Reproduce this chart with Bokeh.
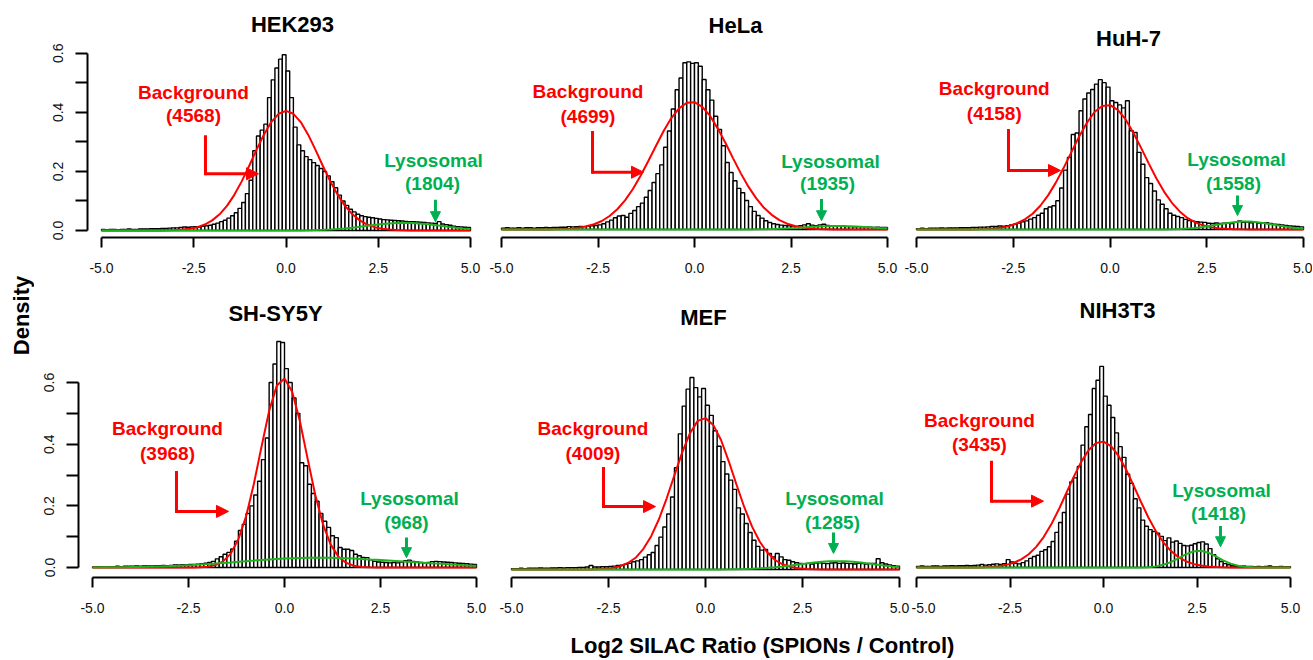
import math
import numpy as np
from bokeh.plotting import figure
from bokeh.models import Range1d, FixedTicker, Label, Arrow, NormalHead
from bokeh.layouts import row, column
from bokeh.embed import file_html
from bokeh.resources import INLINE

# ------------------------------------------------------------------ data
panels = ["HEK293", "HeLa", "HuH-7", "SH-SY5Y", "MEF", "NIH3T3"]
background_counts = ["4568", "4699", "4158", "3968", "4009", "3435"]
lysosomal_counts = ["1804", "1935", "1558", "968", "1285", "1418"]

bin_edges = np.round(np.linspace(-5.0, 5.0, 101), 2)   # histogram bins, width 0.1
curve_x = np.round(np.linspace(-5.0, 5.0, 51), 2)      # x positions where the fitted curves were read

x_tick_values = [-5.0, -2.5, 0.0, 2.5, 5.0]
x_tick_labels = ["-5.0", "-2.5", "0.0", "2.5", "5.0"]
y_tick_values = [0.0, 0.1, 0.2, 0.3, 0.4, 0.5, 0.6]
y_tick_labels = ["0.0", "", "0.2", "", "0.4", "", "0.6"]

hek293_density = [
    0.004, 0.003, 0.004, 0.004, 0.003, 0.004, 0.004, 0.005, 0.004, 0.004, 0.005, 0.005, 0.005, 0.006, 0.006,
    0.006, 0.007, 0.007, 0.008, 0.009, 0.009, 0.010, 0.012, 0.011, 0.012,
    0.013, 0.012, 0.014, 0.016, 0.018, 0.021, 0.025, 0.030, 0.035, 0.042,
    0.050, 0.060, 0.075, 0.095, 0.125, 0.170, 0.270, 0.320, 0.340, 0.360,
    0.450, 0.510, 0.550, 0.580, 0.595, 0.540, 0.450, 0.350, 0.290, 0.270,
    0.250, 0.240, 0.230, 0.220, 0.210, 0.200, 0.185, 0.165, 0.145, 0.120,
    0.100, 0.085, 0.072, 0.063, 0.055, 0.050, 0.047, 0.045, 0.043, 0.041,
    0.039, 0.037, 0.036, 0.035, 0.034, 0.033, 0.032, 0.031, 0.030, 0.030,
    0.029, 0.028, 0.027, 0.026, 0.025, 0.024, 0.030, 0.022, 0.020, 0.018,
    0.015, 0.013, 0.012, 0.011, 0.010]
hela_density = [
    0.005, 0.006, 0.005, 0.005, 0.006, 0.005, 0.006, 0.006, 0.005, 0.006, 0.006, 0.007, 0.006, 0.007, 0.007,
    0.008, 0.008, 0.010, 0.009, 0.010, 0.011, 0.010, 0.012, 0.013, 0.014,
    0.016, 0.020, 0.026, 0.032, 0.040, 0.046, 0.048, 0.042, 0.055, 0.065,
    0.078, 0.090, 0.110, 0.133, 0.160, 0.190, 0.220, 0.280, 0.335, 0.410,
    0.475, 0.515, 0.567, 0.570, 0.565, 0.567, 0.555, 0.510, 0.475, 0.440,
    0.385, 0.340, 0.285, 0.228, 0.194, 0.166, 0.140, 0.125, 0.099, 0.078,
    0.062, 0.048, 0.039, 0.030, 0.024, 0.020, 0.017, 0.015, 0.014, 0.013,
    0.012, 0.011, 0.013, 0.016, 0.020, 0.015, 0.013, 0.016, 0.018, 0.014,
    0.013, 0.012, 0.011, 0.012, 0.010, 0.010, 0.009, 0.010, 0.009, 0.008,
    0.008, 0.007, 0.008, 0.007, 0.007]
huh7_density = [
    0.003, 0.004, 0.003, 0.004, 0.004, 0.004, 0.005, 0.004, 0.005, 0.005, 0.005, 0.006, 0.006, 0.006, 0.007,
    0.007, 0.008, 0.008, 0.009, 0.010, 0.010, 0.012, 0.011, 0.013, 0.015,
    0.018, 0.022, 0.026, 0.029, 0.035, 0.040, 0.048, 0.055, 0.070, 0.076,
    0.080, 0.097, 0.140, 0.200, 0.243, 0.320, 0.325, 0.400, 0.440, 0.460,
    0.472, 0.490, 0.505, 0.495, 0.480, 0.434, 0.428, 0.420, 0.410, 0.434,
    0.333, 0.327, 0.260, 0.220, 0.175, 0.155, 0.130, 0.100, 0.085, 0.070,
    0.055, 0.048, 0.044, 0.040, 0.034, 0.030, 0.028, 0.026, 0.025, 0.024,
    0.021, 0.020, 0.022, 0.020, 0.021, 0.022, 0.020, 0.024, 0.029, 0.024,
    0.025, 0.023, 0.024, 0.022, 0.021, 0.023, 0.020, 0.018, 0.017, 0.015,
    0.014, 0.012, 0.011, 0.010, 0.009]
shsy5y_density = [
    0.002, 0.003, 0.003, 0.002, 0.003, 0.003, 0.004, 0.003, 0.004, 0.004, 0.004, 0.005, 0.004, 0.005, 0.005,
    0.005, 0.006, 0.006, 0.007, 0.006, 0.007, 0.008, 0.008, 0.009, 0.009,
    0.010, 0.010, 0.011, 0.012, 0.014, 0.016, 0.020, 0.028, 0.035, 0.043,
    0.049, 0.060, 0.085, 0.120, 0.140, 0.175, 0.200, 0.235, 0.280, 0.350,
    0.420, 0.600, 0.660, 0.733, 0.730, 0.645, 0.600, 0.550, 0.500, 0.340,
    0.330, 0.270, 0.240, 0.215, 0.175, 0.150, 0.130, 0.103, 0.097, 0.065,
    0.059, 0.059, 0.055, 0.043, 0.038, 0.033, 0.032, 0.025, 0.020, 0.018,
    0.017, 0.016, 0.015, 0.016, 0.015, 0.018, 0.022, 0.024, 0.020, 0.018,
    0.016, 0.015, 0.016, 0.019, 0.020, 0.019, 0.018, 0.017, 0.016, 0.015,
    0.014, 0.013, 0.012, 0.011, 0.010]
mef_density = [
    0.003, 0.003, 0.004, 0.003, 0.004, 0.004, 0.004, 0.005, 0.004, 0.004, 0.005, 0.005, 0.006, 0.005, 0.006,
    0.006, 0.006, 0.007, 0.007, 0.008, 0.013, 0.008, 0.008, 0.009, 0.009,
    0.010, 0.011, 0.013, 0.014, 0.017, 0.020, 0.025, 0.028, 0.032, 0.040,
    0.048, 0.055, 0.078, 0.105, 0.138, 0.180, 0.235, 0.330, 0.440, 0.530,
    0.585, 0.623, 0.590, 0.560, 0.587, 0.533, 0.500, 0.450, 0.400, 0.350,
    0.310, 0.290, 0.260, 0.200, 0.180, 0.149, 0.120, 0.095, 0.075, 0.063,
    0.065, 0.052, 0.041, 0.052, 0.041, 0.032, 0.030, 0.025, 0.022, 0.020,
    0.019, 0.020, 0.018, 0.021, 0.022, 0.020, 0.019, 0.021, 0.022, 0.020,
    0.021, 0.020, 0.019, 0.018, 0.020, 0.019, 0.018, 0.020, 0.020, 0.035,
    0.022, 0.018, 0.015, 0.012, 0.011]
nih3t3_density = [
    0.004, 0.005, 0.004, 0.004, 0.005, 0.005, 0.004, 0.005, 0.005, 0.006, 0.005, 0.006, 0.006, 0.007, 0.006,
    0.007, 0.008, 0.010, 0.008, 0.009, 0.011, 0.012, 0.010, 0.013, 0.026,
    0.018, 0.014, 0.012, 0.016, 0.022, 0.030, 0.036, 0.040, 0.053, 0.058,
    0.068, 0.085, 0.115, 0.147, 0.180, 0.240, 0.280, 0.293, 0.330, 0.400,
    0.460, 0.500, 0.585, 0.612, 0.657, 0.560, 0.530, 0.490, 0.440, 0.395,
    0.360, 0.305, 0.275, 0.225, 0.195, 0.155, 0.135, 0.124, 0.118, 0.112,
    0.102, 0.088, 0.097, 0.083, 0.087, 0.079, 0.072, 0.071, 0.073, 0.078,
    0.082, 0.084, 0.077, 0.062, 0.042, 0.029, 0.020, 0.013, 0.009, 0.006,
    0.005, 0.004, 0.005, 0.004, 0.004, 0.003, 0.004, 0.003, 0.004, 0.005,
    0.003, 0.003, 0.004, 0.003, 0.003]

# fitted curves, read at curve_x (-5.0, -4.8, ..., 5.0)
hek293_background = [
    0, 0, 0, 0, 0, 0, 0.0001, 0.0001, 0.0003, 0.0007, 0.0016, 0.0032, 0.0062, 0.0114, 0.0203, 0.0344,
    0.0548, 0.0834, 0.1208, 0.1664, 0.2183, 0.2729, 0.3245, 0.3670, 0.3951, 0.4050,
    0.3951, 0.3670, 0.3245, 0.2729, 0.2183, 0.1664, 0.1208, 0.0834, 0.0548, 0.0344, 0.0203, 0.0114,
    0.0062, 0.0032, 0.0016, 0.0007, 0.0003, 0.0001, 0.0001, 0, 0, 0, 0, 0, 0]
hek293_lysosomal = [
    0, 0, 0, 0, 0, 0, 0, 0, 0, 0, 0, 0, 0, 0, 0, 0, 0, 0, 0, 0, 0, 0, 0, 0,
    0.0001, 0.0002, 0.0003, 0.0005, 0.0009, 0.0015, 0.0023, 0.0035, 0.0051, 0.0072, 0.0098, 0.0127,
    0.0158, 0.0189, 0.0217, 0.0240, 0.0255, 0.0260, 0.0255, 0.0240, 0.0217, 0.0189, 0.0158, 0.0127,
    0.0098, 0.0072, 0.0051]
hela_background = [
    0, 0, 0, 0, 0, 0, 0,
    0.001, 0.0018, 0.003, 0.006, 0.011, 0.018, 0.029, 0.046, 0.069, 0.099, 0.137, 0.182, 0.232,
    0.284, 0.335, 0.379, 0.412, 0.431, 0.433,
    0.417, 0.387, 0.344, 0.295, 0.242, 0.191, 0.145, 0.106, 0.074, 0.050, 0.032, 0.020, 0.012,
    0.007, 0.004, 0.002, 0.001,
    0, 0, 0, 0, 0, 0, 0, 0]
hela_lysosomal = [
    0, 0, 0, 0, 0, 0, 0, 0, 0, 0, 0, 0, 0, 0, 0, 0, 0, 0, 0, 0, 0, 0, 0, 0, 0, 0, 0, 0, 0,
    0.0001, 0.0001, 0.0003, 0.0005, 0.0008, 0.0013, 0.002, 0.003, 0.0042, 0.0057, 0.0073, 0.0089,
    0.0103, 0.0113, 0.0119, 0.0119, 0.0113, 0.0103, 0.0089, 0.0073, 0.0057, 0.0042]
huh7_background = [
    0, 0, 0, 0, 0, 0,
    0.0001, 0.0003, 0.0007, 0.0017, 0.0036, 0.0068, 0.012, 0.021, 0.034, 0.053, 0.08, 0.115, 0.158,
    0.207, 0.26, 0.313, 0.359, 0.396, 0.416, 0.419, 0.403, 0.372, 0.327, 0.276, 0.223, 0.172, 0.127,
    0.09, 0.061, 0.039, 0.024, 0.014, 0.008, 0.0044, 0.0023, 0.001, 0.0005, 0.0002,
    0, 0, 0, 0, 0, 0, 0]
huh7_lysosomal = [
    0, 0, 0, 0, 0, 0, 0, 0, 0, 0, 0, 0, 0, 0, 0, 0, 0, 0, 0, 0, 0, 0, 0, 0, 0, 0, 0, 0, 0, 0, 0,
    0.0002, 0.0004, 0.0008, 0.0017, 0.0031, 0.0053, 0.0084, 0.0124, 0.0168, 0.0212, 0.0248, 0.0267,
    0.0267, 0.0248, 0.0212, 0.0168, 0.0124, 0.0084, 0.0053, 0.0031]
shsy5y_background = [
    0, 0, 0, 0, 0, 0, 0, 0, 0, 0, 0, 0, 0,
    0.0003, 0.0009, 0.0028, 0.0079, 0.020, 0.045, 0.092, 0.166, 0.270, 0.391, 0.508, 0.590, 0.613,
    0.570, 0.475, 0.354, 0.236, 0.141, 0.075, 0.036, 0.0153, 0.0059, 0.002, 0.0006, 0.0002,
    0, 0, 0, 0, 0, 0, 0, 0, 0, 0, 0, 0, 0]
shsy5y_lysosomal = [
    0.0004, 0.0006, 0.0007, 0.001, 0.0012, 0.0016, 0.002, 0.0025, 0.0032, 0.0039, 0.0048, 0.0058,
    0.0069, 0.0082, 0.0096, 0.0112, 0.0129, 0.0147, 0.0165, 0.0184, 0.0204, 0.0223, 0.0242, 0.0259,
    0.0275, 0.0289, 0.0301, 0.031, 0.0316, 0.032, 0.032, 0.0316, 0.031, 0.0301, 0.0289, 0.0275,
    0.0261, 0.0248, 0.0234, 0.0219, 0.0204, 0.0189, 0.0173, 0.0157, 0.0141, 0.0126, 0.0111, 0.0096,
    0.0082, 0.0068, 0.0056]
mef_background = [
    0, 0, 0, 0, 0, 0, 0, 0, 0, 0,
    0.0003, 0.0009, 0.0023, 0.005, 0.0107, 0.021, 0.038, 0.067, 0.108, 0.163, 0.231, 0.306, 0.38,
    0.442, 0.482, 0.491, 0.469, 0.42, 0.351, 0.275, 0.202, 0.139, 0.09, 0.054, 0.03, 0.016, 0.008,
    0.0037, 0.0016, 0.0007, 0.0003,
    0, 0, 0, 0, 0, 0, 0, 0, 0, 0]
mef_lysosomal = [
    0, 0, 0, 0, 0, 0, 0, 0, 0, 0, 0, 0, 0, 0, 0, 0, 0, 0, 0, 0, 0, 0, 0, 0,
    0.0001, 0.0001, 0.0002, 0.0003, 0.0005, 0.0009, 0.0015, 0.0024, 0.0037, 0.0053, 0.0075, 0.0101,
    0.0131, 0.0164, 0.0196, 0.0226, 0.0249, 0.0265, 0.027, 0.0265, 0.0249, 0.0226, 0.0196, 0.0164,
    0.0131, 0.0101, 0.0075]
nih3t3_background = [
    0, 0, 0, 0, 0, 0, 0, 0,
    0.0005, 0.0012, 0.0024, 0.0047, 0.0089, 0.0158, 0.0269, 0.0436, 0.0676, 0.0997, 0.1404, 0.1887,
    0.2418, 0.2955, 0.3445, 0.3833, 0.4066, 0.4114, 0.397, 0.3655, 0.321, 0.269, 0.215, 0.1637,
    0.119, 0.0825, 0.0545, 0.0344, 0.0207, 0.0119, 0.0065, 0.0034, 0.0017, 0.0008, 0.0004,
    0, 0, 0, 0, 0, 0, 0, 0]
nih3t3_lysosomal = [
    0, 0, 0, 0, 0, 0, 0, 0, 0, 0, 0, 0, 0, 0, 0, 0, 0, 0, 0, 0, 0, 0, 0, 0, 0, 0, 0, 0, 0, 0,
    0.0005, 0.0014, 0.0039, 0.009, 0.0179, 0.030, 0.043, 0.0526, 0.0547, 0.0485, 0.0367, 0.0236,
    0.013, 0.0061, 0.0024, 0.0008, 0.0002, 0, 0, 0, 0]

densities = [hek293_density, hela_density, huh7_density, shsy5y_density, mef_density, nih3t3_density]
backgrounds = [hek293_background, hela_background, huh7_background,
               shsy5y_background, mef_background, nih3t3_background]
lysosomals = [hek293_lysosomal, hela_lysosomal, huh7_lysosomal,
              shsy5y_lysosomal, mef_lysosomal, nih3t3_lysosomal]

# ------------------------------------------------------------------ layout / style (page pixels)
# fig = (left, right, top, bottom), xm5/xp5 = pixel of x=-5 / x=5, base = pixel of y=0,
# axis = pixel of the x axis line, ppy = pixels per density unit, yaxis = pixel of y axis line
geometry = [
    dict(fig=(34, 488, 0, 290), xm5=101, xp5=470, base=231, axis=238, ppy=296.7, yaxis=87),
    dict(fig=(488, 900, 0, 290), xm5=501, xp5=887, base=231, axis=239, ppy=296.7),
    dict(fig=(900, 1312, 0, 290), xm5=916, xp5=1303, base=229, axis=237, ppy=296.7),
    dict(fig=(34, 492, 290, 624), xm5=92, xp5=476, base=567, axis=577, ppy=308.3, yaxis=78),
    dict(fig=(492, 911, 290, 624), xm5=511, xp5=899, base=569, axis=577, ppy=308.3),
    dict(fig=(911, 1312, 290, 624), xm5=916, xp5=1290, base=569, axis=579, ppy=308.3),
]
# annotation placement in data units
annotations = [
    dict(title=(0.176, 0.698), bg=(-2.507, 0.468, 0.391), bg_arrow=(-2.182, 0.317, 0.192, -0.745),
         ly=(3.997, 0.236, 3.97, 0.158), ly_arrow=(4.05, 0.104, 0.030)),
    dict(title=(1.062, 0.694), bg=(-2.76, 0.468, 0.384), bg_arrow=(-2.642, 0.330, 0.195, -1.321),
         ly=(3.523, 0.233, 3.446, 0.155), ly_arrow=(3.29, 0.104, 0.030)),
    dict(title=(0.478, 0.644), bg=(-2.99, 0.475, 0.391), bg_arrow=(-2.623, 0.334, 0.199, -1.279),
         ly=(3.269, 0.236, 3.191, 0.155), ly_arrow=(3.295, 0.115, 0.047)),
    dict(title=(-0.234, 0.824), bg=(-3.047, 0.451, 0.370), bg_arrow=(-2.813, 0.308, 0.182, -1.458),
         ly=(3.255, 0.224, 3.177, 0.146), ly_arrow=(3.177, 0.097, 0.032)),
    dict(title=(-0.052, 0.817), bg=(-2.9, 0.457, 0.376), bg_arrow=(-2.629, 0.328, 0.204, -1.289),
         ly=(3.325, 0.230, 3.273, 0.152), ly_arrow=(3.299, 0.12, 0.052)),
    dict(title=(0.374, 0.84), bg=(-3.316, 0.48, 0.402), bg_arrow=(-2.995, 0.344, 0.217, -1.604),
         ly=(3.155, 0.253, 3.075, 0.175), ly_arrow=(3.128, 0.136, 0.068)),
]

FONT = "Liberation Sans"
RED = "#FF0000"
GREEN_TXT = "#00B050"
GREEN_LINE = "#1DB31D"


def label(p, x, y, text, color, size, bold=True):
    p.add_layout(Label(x=x, y=y, text=text, text_color=color, text_font=FONT,
                       text_font_size=size, text_font_style="bold" if bold else "normal",
                       text_align="center", text_baseline="middle"))


def make_panel(i):
    g = geometry[i]
    a = annotations[i]
    L, R, T, B = g["fig"]
    has_y = "yaxis" in g
    frame_left = g["yaxis"] if has_y else L
    ppx = (g["xp5"] - g["xm5"]) / 10.0
    x0 = -5.0 + (frame_left - g["xm5"]) / ppx
    x1 = 5.0 + (R - g["xp5"]) / ppx
    y0 = -(g["axis"] - g["base"]) / g["ppy"]
    y1 = (g["base"] - T) / g["ppy"]

    p = figure(width=R - L, height=B - T, x_range=Range1d(x0, x1), y_range=Range1d(y0, y1),
               output_backend="svg", toolbar_location=None,
               x_axis_location="below", y_axis_location="left" if has_y else None,
               min_border_left=frame_left - L, min_border_right=0, min_border_top=0,
               min_border_bottom=B - g["axis"], outline_line_color=None,
               background_fill_color="white", border_fill_color="white")
    p.xgrid.visible = False
    p.ygrid.visible = False

    xa = p.xaxis[0]
    xa.ticker = FixedTicker(ticks=x_tick_values)
    xa.major_label_overrides = {v: s for v, s in zip(x_tick_values, x_tick_labels)}
    xa.bounds = (-5.0, 5.0)
    xa.axis_line_width = 2
    xa.axis_line_color = "black"
    xa.major_tick_line_width = 2
    xa.major_tick_line_color = "black"
    xa.major_tick_out = 10
    xa.major_tick_in = 0
    xa.minor_tick_line_color = None
    xa.major_label_text_font = FONT
    xa.major_label_text_font_size = "14px"
    xa.major_label_text_color = "#111111"
    xa.major_label_standoff = 15

    if has_y:
        ya = p.yaxis[0]
        ya.ticker = FixedTicker(ticks=y_tick_values)
        ya.major_label_overrides = {v: s for v, s in zip(y_tick_values, y_tick_labels)}
        ya.bounds = (0.0, 0.6)
        ya.axis_line_width = 2
        ya.axis_line_color = "black"
        ya.major_tick_line_width = 2
        ya.major_tick_line_color = "black"
        ya.major_tick_out = 12
        ya.major_tick_in = 0
        ya.minor_tick_line_color = None
        ya.major_label_orientation = "vertical"
        ya.major_label_text_font = FONT
        ya.major_label_text_font_size = "14px"
        ya.major_label_text_color = "#111111"
        ya.major_label_standoff = 12

    p.quad(left=bin_edges[:-1], right=bin_edges[1:], bottom=0, top=densities[i],
           fill_color="white", line_color="black", line_width=1.4)
    p.line(curve_x, backgrounds[i], line_color=RED, line_width=2)
    p.line(curve_x, lysosomals[i], line_color=GREEN_LINE, line_width=2)

    # title
    tx, ty = a["title"]
    label(p, tx, ty, panels[i], "black", "22px")
    # background annotation
    bx, by1, by2 = a["bg"]
    label(p, bx, by1, "Background", RED, "19px")
    label(p, bx, by2, "(" + background_counts[i] + ")", RED, "19px")
    ax_, ay_top, ay_corner, ax_end = a["bg_arrow"]
    p.add_layout(Arrow(x_start=ax_, y_start=ay_top, x_end=ax_, y_end=ay_corner, end=None,
                       line_color=RED, line_width=3, line_cap="square"))
    p.add_layout(Arrow(x_start=ax_, y_start=ay_corner, x_end=ax_end, y_end=ay_corner,
                       end=NormalHead(size=12, fill_color=RED, line_color=RED, line_width=1),
                       line_color=RED, line_width=3))
    # lysosomal annotation
    lx1, ly1, lx2, ly2 = a["ly"]
    label(p, lx1, ly1, "Lysosomal", GREEN_TXT, "19px")
    label(p, lx2, ly2, "(" + lysosomal_counts[i] + ")", GREEN_TXT, "19px")
    gx, gy0, gy1 = a["ly_arrow"]
    p.add_layout(Arrow(x_start=gx, y_start=gy0, x_end=gx, y_end=gy1,
                       end=NormalHead(size=10, fill_color=GREEN_TXT, line_color=GREEN_TXT, line_width=1),
                       line_color=GREEN_TXT, line_width=3))
    return p


figs = [make_panel(i) for i in range(6)]

# "Density" label column (x 0..34, y 0..624)
dens = figure(width=34, height=624, x_range=Range1d(0, 34), y_range=Range1d(624, 0),
              output_backend="svg", toolbar_location=None, x_axis_location=None,
              y_axis_location=None, min_border=0, outline_line_color=None)
dens.xgrid.visible = False
dens.ygrid.visible = False
dens.add_layout(Label(x=21, y=315, text="Density", angle=math.pi / 2, text_font=FONT,
                      text_font_size="22px", text_font_style="bold", text_color="black",
                      text_align="center", text_baseline="middle"))

# x axis title row (y 624..659)
xlab = figure(width=1312, height=35, x_range=Range1d(0, 1312), y_range=Range1d(35, 0),
              output_backend="svg", toolbar_location=None, x_axis_location=None,
              y_axis_location=None, min_border=0, outline_line_color=None)
xlab.xgrid.visible = False
xlab.ygrid.visible = False
xlab.add_layout(Label(x=762, y=21, text="Log2 SILAC Ratio (SPIONs / Control)", text_font=FONT,
                      text_font_size="22px", text_font_style="bold", text_color="black",
                      text_align="center", text_baseline="middle"))

grid = column(row(figs[0], figs[1], figs[2]), row(figs[3], figs[4], figs[5]))
page = column(row(dens, grid), xlab)

open("out.html", "w").write(file_html(page, INLINE))
